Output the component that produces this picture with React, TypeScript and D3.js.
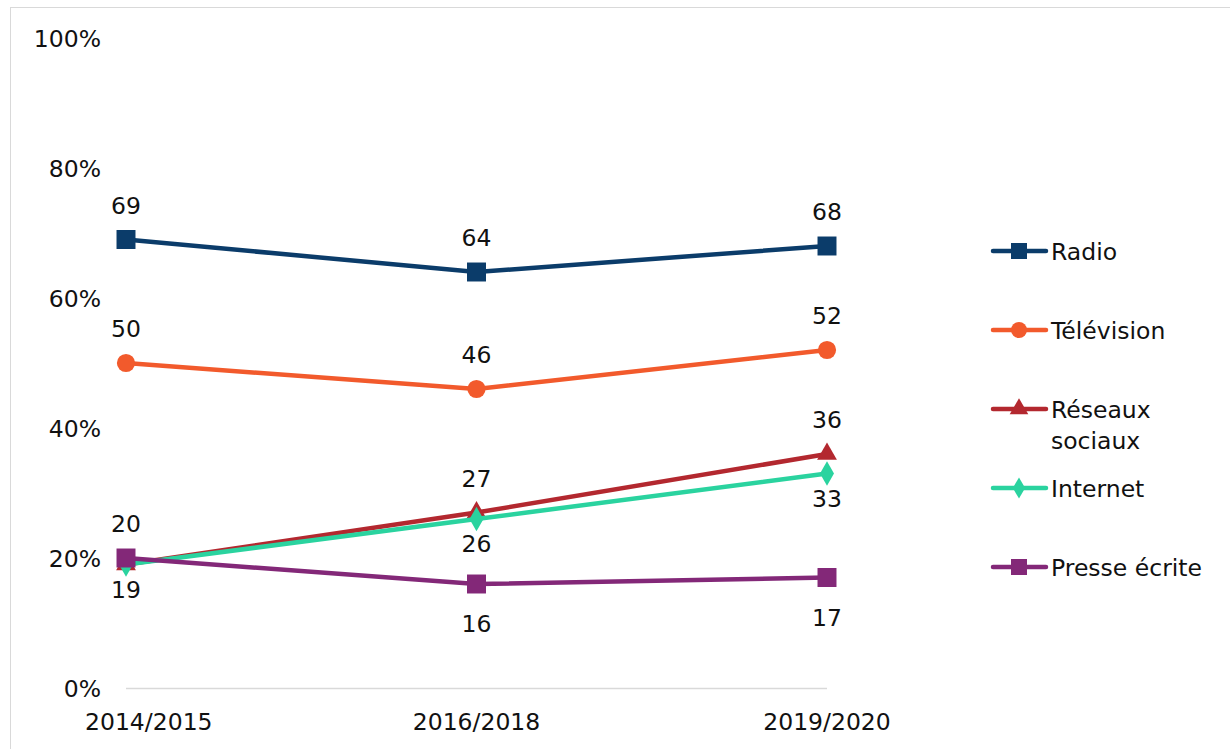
import React, { useRef, useEffect } from 'react';
import * as d3 from 'd3';

const periods = ['2014/2015', '2016/2018', '2019/2020'];
const seriesNames = ['Radio', 'Télévision', 'Réseaux sociaux', 'Internet', 'Presse écrite'];
const radio = [69, 64, 68];
const television = [50, 46, 52];
const reseaux = [19, 27, 36];
const internet = [19, 26, 33];
const presse = [20, 16, 17];
const yTicks = [0, 20, 40, 60, 80, 100];

const colors = ['#0b3c6a', '#f25a2c', '#b3282f', '#2ad39f', '#832878'];
const markers = ['square', 'circle', 'triangle', 'diamond', 'square'];

const W = 1230;
const H = 749;
const FONT = '"DejaVu Sans", sans-serif';
const FS = 23.5;

const App: React.FC = () => {
  const svgRef = useRef<SVGSVGElement>(null);

  useEffect(() => {
    if (!svgRef.current) return;
    const svg = d3.select(svgRef.current);
    svg.selectAll('*').remove();

    const allValues = [radio, television, reseaux, internet, presse];

    const x = d3.scalePoint<string>().domain(periods).range([126, 827]);
    const y = d3.scaleLinear().domain([0, 100]).range([688, 38]);

    // outer border
    svg.append('rect')
      .attr('x', 10.5).attr('y', 7.5)
      .attr('width', W).attr('height', H)
      .attr('fill', 'white').attr('stroke', '#d9d9d9');

    // baseline
    svg.append('line')
      .attr('x1', x(periods[0])!).attr('x2', x(periods[2])!)
      .attr('y1', y(0) + 0.5).attr('y2', y(0) + 0.5)
      .attr('stroke', '#d9d9d9').attr('stroke-width', 1.5);

    // y labels
    svg.append('g')
      .selectAll('text')
      .data(yTicks)
      .join('text')
      .attr('x', 101)
      .attr('y', d => y(d) + 8.5)
      .attr('text-anchor', 'end')
      .attr('font-family', FONT)
      .attr('font-size', FS)
      .attr('fill', '#111')
      .text(d => `${d}%`);

    // x labels, kept inside the chart's left edge
    svg.append('g')
      .selectAll('text')
      .data(periods)
      .join('text')
      .attr('y', 730)
      .attr('text-anchor', 'middle')
      .attr('font-family', FONT)
      .attr('font-size', FS)
      .attr('fill', '#111')
      .text(d => d)
      .attr('x', function (d) {
        const w = (this as SVGTextElement).getComputedTextLength();
        return Math.max(x(d)!, 85 + w / 2);
      });

    const symbolFor = (m: string) => {
      if (m === 'square') return d3.symbol(d3.symbolSquare, 360);
      if (m === 'circle') return d3.symbol(d3.symbolCircle, 260);
      if (m === 'triangle') return d3.symbol(d3.symbolTriangle, 170);
      return d3.symbol(d3.symbolDiamond, 170);
    };

    const line = d3.line<number>()
      .x((_, i) => x(periods[i])!)
      .y(d => y(d));

    allValues.forEach((vals, s) => {
      const g = svg.append('g');
      g.append('path')
        .datum(vals)
        .attr('d', line)
        .attr('fill', 'none')
        .attr('stroke', colors[s])
        .attr('stroke-width', 4.5)
        .attr('stroke-linejoin', 'round');
      g.selectAll('path.m')
        .data(vals)
        .join('path')
        .attr('class', 'm')
        .attr('transform', (d, i) => `translate(${x(periods[i])},${y(d)})`)
        .attr('d', symbolFor(markers[s])())
        .attr('fill', colors[s]);
    });

    // data labels
    const place = ['above', 'above', 'above', 'below', 'below'];
    allValues.forEach((vals, s) => {
      vals.forEach((v, i) => {
        if (s === 2 && i === 0) return; // hidden under "20"
        let pos = place[s];
        if (s === 4 && i === 0) pos = 'above';
        let dy = -26;
        if (pos === 'below') dy = s === 4 ? 48 : 33;
        svg.append('text')
          .attr('x', x(periods[i])!)
          .attr('y', y(v) + dy)
          .attr('text-anchor', 'middle')
          .attr('font-family', FONT)
          .attr('font-size', FS)
          .attr('fill', '#111')
          .text(v);
      });
    });

    // legend
    const legendLines = [['Radio'], ['Télévision'], ['Réseaux', 'sociaux'], ['Internet'], ['Presse écrite']];
    seriesNames.forEach((_, s) => {
      const ly = 251 + s * 79;
      const g = svg.append('g');
      g.append('line')
        .attr('x1', 993).attr('x2', 1046)
        .attr('y1', ly).attr('y2', ly)
        .attr('stroke', colors[s]).attr('stroke-width', 4.5)
        .attr('stroke-linecap', 'round');
      const sym = markers[s] === 'square'
        ? d3.symbol(d3.symbolSquare, 256)
        : markers[s] === 'circle'
          ? d3.symbol(d3.symbolCircle, 200)
          : markers[s] === 'triangle'
            ? d3.symbol(d3.symbolTriangle, 150)
            : d3.symbol(d3.symbolDiamond, 130);
      g.append('path')
        .attr('transform', `translate(1019,${ly})`)
        .attr('d', sym())
        .attr('fill', colors[s]);
      legendLines[s].forEach((t, k) => {
        g.append('text')
          .attr('x', 1051)
          .attr('y', ly + 8.5 + k * 31)
          .attr('font-family', FONT)
          .attr('font-size', FS)
          .attr('fill', '#111')
          .text(t);
      });
    });
  }, []);

  return (
    <div style={{ position: 'fixed', left: 0, top: 0, width: W, height: H, background: 'white' }}>
      <svg ref={svgRef} width={W} height={H} />
    </div>
  );
};

export default App;
